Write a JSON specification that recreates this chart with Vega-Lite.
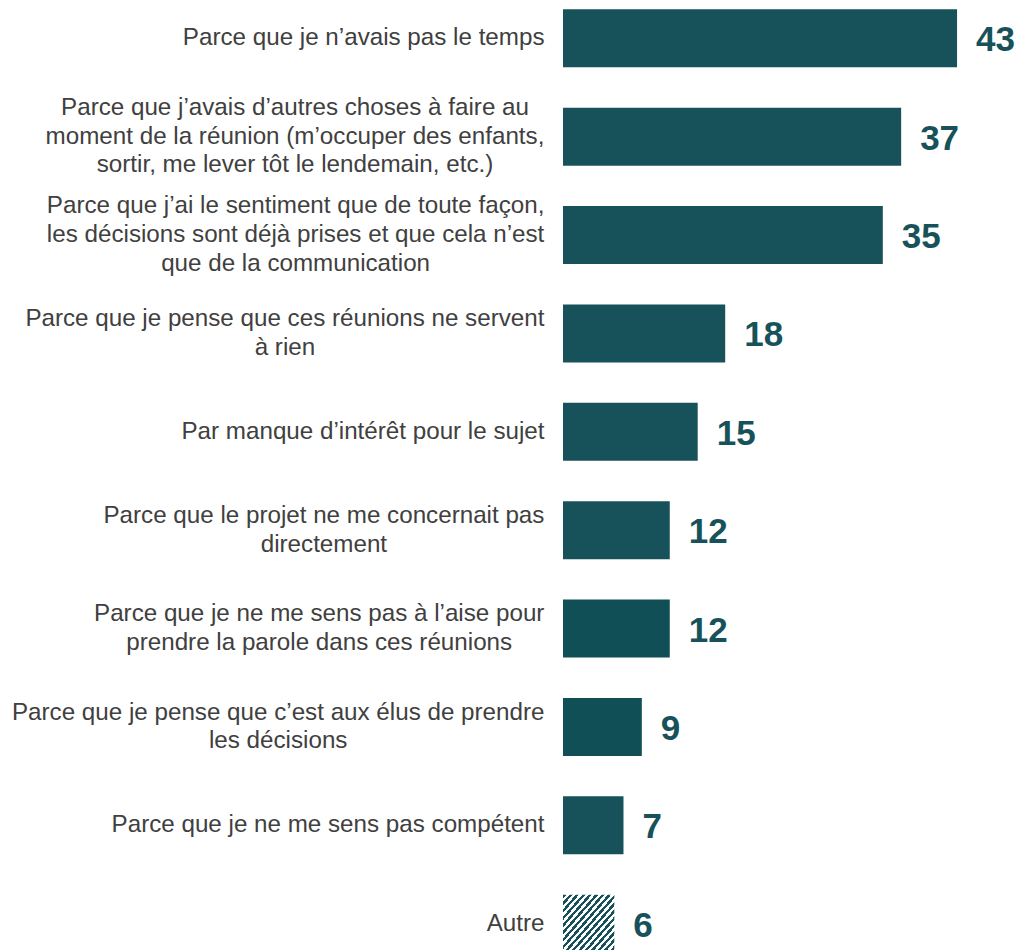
{
  "$schema": "https://vega.github.io/schema/vega-lite/v6.json",
  "autosize": "none",
  "padding": {"left": 563, "top": 0, "right": 0, "bottom": 0},
  "width": 456,
  "height": 962,
  "background": "white",
  "config": {"view": {"stroke": null}, "font": "Liberation Sans"},
  "data": {
    "values": [
      {"reason": "Parce que je n’avais pas le temps", "pct": 43.0, "shown": 43},
      {"reason": "Parce que j’avais d’autres choses à faire au|moment de la réunion (m’occuper des enfants,|sortir, me lever tôt le lendemain, etc.)", "pct": 36.9, "shown": 37},
      {"reason": "Parce que j’ai le sentiment que de toute façon,|les décisions sont déjà prises et que cela n’est|que de la communication", "pct": 34.9, "shown": 35},
      {"reason": "Parce que je pense que ces réunions ne servent|à rien", "pct": 17.7, "shown": 18},
      {"reason": "Par manque d’intérêt pour le sujet", "pct": 14.7, "shown": 15},
      {"reason": "Parce que le projet ne me concernait pas|directement", "pct": 11.65, "shown": 12},
      {"reason": "Parce que je ne me sens pas à l’aise pour|prendre la parole dans ces réunions", "pct": 11.65, "shown": 12},
      {"reason": "Parce que je pense que c’est aux élus de prendre|les décisions", "pct": 8.6, "shown": 9},
      {"reason": "Parce que je ne me sens pas compétent", "pct": 6.6, "shown": 7},
      {"reason": "Autre", "pct": 5.6, "shown": 6}
    ]
  },
  "encoding": {
    "y": {
      "field": "reason",
      "type": "nominal",
      "sort": null,
      "scale": {"paddingInner": 0.4106, "paddingOuter": 0.0945},
      "axis": {
        "title": null,
        "domain": false,
        "ticks": false,
        "tickSize": 0,
        "labelExpr": "split(datum.value, '|')",
        "labelFont": "Liberation Sans",
        "labelFontSize": 24.2,
        "labelColor": "#404040",
        "labelLineHeight": 28.8,
        "labelLimit": 800,
        "labelAlign": {"condition": {"test": "indexof(datum.value, '|') >= 0", "value": "center"}, "value": "right"},
        "labelOffset": {
          "condition": [
            {"test": "indexof(datum.value, 'enfants') >= 0 || indexof(datum.value, 'toute façon') >= 0", "value": -28.8},
            {"test": "indexof(datum.value, '|') >= 0", "value": -14.4}
          ],
          "value": 0
        },
        "labelPadding": {
          "condition": [
            {"test": "indexof(datum.value, 'enfants') >= 0", "value": 268.5},
            {"test": "indexof(datum.value, 'toute façon') >= 0", "value": 267.9},
            {"test": "indexof(datum.value, 'servent') >= 0", "value": 278.6},
            {"test": "indexof(datum.value, 'concernait') >= 0", "value": 239.6},
            {"test": "indexof(datum.value, 'aise pour') >= 0", "value": 244.3},
            {"test": "indexof(datum.value, 'élus') >= 0", "value": 285.3}
          ],
          "value": 19
        }
      }
    },
    "x": {
      "field": "pct",
      "type": "quantitative",
      "scale": {"domain": [0, 49.76], "nice": false, "zero": true},
      "axis": null
    }
  },
  "layer": [
    {
      "mark": {"type": "bar"},
      "encoding": {
        "color": {
          "condition": [
            {"test": "datum.reason === 'Autre'", "value": {
              "gradient": "linear", "x1": 0, "y1": 0, "x2": 1, "y2": 1,
              "stops": [
                {"offset": 0, "color": "#17525A"}, {"offset": 0.03125, "color": "#17525A"},
                {"offset": 0.03125, "color": "#FFFFFF"}, {"offset": 0.0625, "color": "#FFFFFF"},
                {"offset": 0.0625, "color": "#17525A"}, {"offset": 0.09375, "color": "#17525A"},
                {"offset": 0.09375, "color": "#FFFFFF"}, {"offset": 0.125, "color": "#FFFFFF"},
                {"offset": 0.125, "color": "#17525A"}, {"offset": 0.15625, "color": "#17525A"},
                {"offset": 0.15625, "color": "#FFFFFF"}, {"offset": 0.1875, "color": "#FFFFFF"},
                {"offset": 0.1875, "color": "#17525A"}, {"offset": 0.21875, "color": "#17525A"},
                {"offset": 0.21875, "color": "#FFFFFF"}, {"offset": 0.25, "color": "#FFFFFF"},
                {"offset": 0.25, "color": "#17525A"}, {"offset": 0.28125, "color": "#17525A"},
                {"offset": 0.28125, "color": "#FFFFFF"}, {"offset": 0.3125, "color": "#FFFFFF"},
                {"offset": 0.3125, "color": "#17525A"}, {"offset": 0.34375, "color": "#17525A"},
                {"offset": 0.34375, "color": "#FFFFFF"}, {"offset": 0.375, "color": "#FFFFFF"},
                {"offset": 0.375, "color": "#17525A"}, {"offset": 0.40625, "color": "#17525A"},
                {"offset": 0.40625, "color": "#FFFFFF"}, {"offset": 0.4375, "color": "#FFFFFF"},
                {"offset": 0.4375, "color": "#17525A"}, {"offset": 0.46875, "color": "#17525A"},
                {"offset": 0.46875, "color": "#FFFFFF"}, {"offset": 0.5, "color": "#FFFFFF"},
                {"offset": 0.5, "color": "#17525A"}, {"offset": 0.53125, "color": "#17525A"},
                {"offset": 0.53125, "color": "#FFFFFF"}, {"offset": 0.5625, "color": "#FFFFFF"},
                {"offset": 0.5625, "color": "#17525A"}, {"offset": 0.59375, "color": "#17525A"},
                {"offset": 0.59375, "color": "#FFFFFF"}, {"offset": 0.625, "color": "#FFFFFF"},
                {"offset": 0.625, "color": "#17525A"}, {"offset": 0.65625, "color": "#17525A"},
                {"offset": 0.65625, "color": "#FFFFFF"}, {"offset": 0.6875, "color": "#FFFFFF"},
                {"offset": 0.6875, "color": "#17525A"}, {"offset": 0.71875, "color": "#17525A"},
                {"offset": 0.71875, "color": "#FFFFFF"}, {"offset": 0.75, "color": "#FFFFFF"},
                {"offset": 0.75, "color": "#17525A"}, {"offset": 0.78125, "color": "#17525A"},
                {"offset": 0.78125, "color": "#FFFFFF"}, {"offset": 0.8125, "color": "#FFFFFF"},
                {"offset": 0.8125, "color": "#17525A"}, {"offset": 0.84375, "color": "#17525A"},
                {"offset": 0.84375, "color": "#FFFFFF"}, {"offset": 0.875, "color": "#FFFFFF"},
                {"offset": 0.875, "color": "#17525A"}, {"offset": 0.90625, "color": "#17525A"},
                {"offset": 0.90625, "color": "#FFFFFF"}, {"offset": 0.9375, "color": "#FFFFFF"},
                {"offset": 0.9375, "color": "#17525A"}, {"offset": 0.96875, "color": "#17525A"},
                {"offset": 0.96875, "color": "#FFFFFF"}, {"offset": 1, "color": "#FFFFFF"}
              ]
            }},
            {"test": "indexof(datum.reason, 'aise pour') >= 0 || indexof(datum.reason, 'élus') >= 0", "value": "#0F4F55"}
          ],
          "value": "#17525A"
        }
      }
    },
    {
      "mark": {
        "type": "text",
        "align": "left",
        "baseline": "middle",
        "dx": 19,
        "dy": 2,
        "font": "Liberation Sans",
        "fontWeight": "bold",
        "fontSize": 35,
        "color": "#17525A"
      },
      "encoding": {
        "text": {"field": "shown", "type": "quantitative"}
      }
    }
  ]
}
